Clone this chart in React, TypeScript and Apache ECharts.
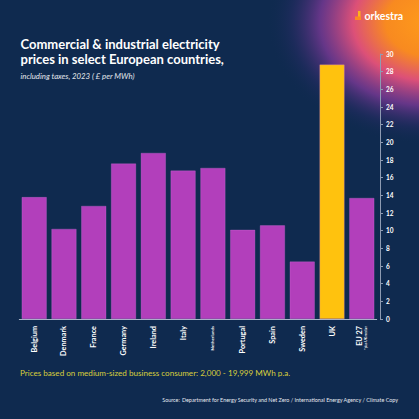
import React, { useEffect, useRef } from "react";
import * as echarts from "echarts";

const categories = ["Belgium", "Denmark", "France", "Germany", "Ireland", "Italy", "Netherlands", "Portugal", "Spain", "Sweden", "UK", "EU 27"];
const prices = [13.8, 10.2, 12.8, 17.6, 18.8, 16.8, 17.1, 10.1, 10.6, 6.5, 28.8, 13.7];
const highlighted = ["UK"];
const yMin = 0;
const yMax = 30;
const yStep = 2;

const titleLines = ["Commercial & industrial electricity", "prices in select European countries,"];
const subtitle = "including taxes, 2023 ( £ per MWh)";
const footnote = "Prices based on medium-sized business consumer: 2,000 - 19,999 MWh p.a.";
const sourceLabel = "Source:";
const sourceText = " Department for Energy Security and Net Zero / International Energy Agency / Climate Copy";
const brand = "orkestra";

const NAVY = "#0f2a4f";
const PURPLE = "#b23fbb";
const YELLOW = "#ffc20e";
const FONT = "Lato";

export default function App() {
  const ref = useRef<HTMLDivElement>(null);
  useEffect(() => {
    if (!ref.current) return;
    const chart = echarts.init(ref.current, null, { renderer: "svg" });
    const option = {
      animation: false,
      backgroundColor: NAVY,
      grid: { left: 19.3, top: 54, width: 357.4, height: 265, containLabel: false },
      xAxis: {
        type: "category",
        data: categories,
        axisLine: { show: true, lineStyle: { color: "#a9b4c8", width: 1 } },
        axisTick: { show: false },
        axisLabel: {
          rotate: 90,
          margin: 7,
          interval: 0,
          color: "#ffffff",
          fontFamily: FONT,
          fontWeight: "bold",
          fontSize: 7.3,
          formatter: (v: string) => {
            if (v === "Netherlands") return "{s|Netherlands}";
            if (v === "EU 27") return "{a|EU 27}\n{t|*plus UK median}";
            return v;
          },
          rich: {
            s: { fontSize: 4.5, fontFamily: FONT, fontWeight: "bold", color: "#ffffff" },
            a: { fontSize: 7.3, fontFamily: FONT, fontWeight: "bold", color: "#ffffff", lineHeight: 8 },
            t: { fontSize: 3.2, fontFamily: FONT, fontWeight: "bold", color: "#ffffff", lineHeight: 5 },
          },
        },
      },
      yAxis: {
        type: "value",
        position: "right",
        offset: 3.3,
        min: yMin,
        max: yMax,
        interval: yStep,
        splitLine: { show: false },
        axisLine: { show: true, lineStyle: { color: "#8e9bb2", width: 1 } },
        axisTick: { show: true, inside: false, length: 3, lineStyle: { color: "#8e9bb2" } },
        axisLabel: { margin: 6, color: "#ffffff", fontFamily: FONT, fontWeight: "bold", fontSize: 6.5 },
      },
      series: [
        {
          type: "bar",
          barWidth: 25,
          data: categories.map((c, i) => ({
            value: prices[i],
            itemStyle: { color: highlighted.includes(c) ? YELLOW : PURPLE },
          })),
          itemStyle: { borderColor: "rgba(210,120,220,0.6)", borderWidth: 0.5 },
        },
      ],
      graphic: [
        {
          type: "circle",
          z: -10,
          silent: true,
          x: 432,
          y: 22,
          scaleY: 0.75,
          shape: { cx: 0, cy: 0, r: 165 },
          style: {
            fill: new echarts.graphic.RadialGradient(0.5, 0.5, 0.5, [
              { offset: 0, color: "#ff9c1a" },
              { offset: 0.28, color: "#f88a20" },
              { offset: 0.48, color: "#dc5078" },
              { offset: 0.68, color: "rgba(130,58,155,0.75)" },
              { offset: 0.86, color: "rgba(55,45,115,0.3)" },
              { offset: 1, color: "rgba(15,42,79,0)" },
            ]),
          },
        },
        {
          type: "rect",
          silent: true,
          shape: { x: 358, y: 11, width: 2.5, height: 9 },
          style: { fill: "#ffb21a" },
        },
        {
          type: "rect",
          silent: true,
          shape: { x: 355, y: 16.5, width: 6, height: 3.5 },
          style: { fill: "#ff8a1f" },
        },
        {
          type: "text",
          x: 364.5,
          y: 16,
          style: { text: brand, fill: "#ffffff", fontFamily: FONT, fontWeight: "bold", fontSize: 10.5, textAlign: "left", textVerticalAlign: "middle" },
        },
        {
          type: "text",
          x: 20.5,
          y: 43.5,
          style: { text: titleLines[0], fill: "#ffffff", fontFamily: FONT, fontWeight: "bold", fontSize: 13, textAlign: "left", textVerticalAlign: "middle" },
        },
        {
          type: "text",
          x: 20.5,
          y: 59,
          style: { text: titleLines[1], fill: "#ffffff", fontFamily: FONT, fontWeight: "bold", fontSize: 13, textAlign: "left", textVerticalAlign: "middle" },
        },
        {
          type: "text",
          x: 20.5,
          y: 75.5,
          style: { text: subtitle, fill: "#e3e6ec", fontFamily: FONT, fontStyle: "italic", fontSize: 7.8, textAlign: "left", textVerticalAlign: "middle" },
        },
        {
          type: "text",
          x: 20,
          y: 372.7,
          style: { text: footnote, fill: "#d9cf3c", fontFamily: FONT, fontSize: 8.1, textAlign: "left", textVerticalAlign: "middle" },
        },
        {
          type: "line",
          silent: true,
          shape: { x1: 20, y1: 388.5, x2: 397, y2: 388.5 },
          style: {
            lineWidth: 1.5,
            stroke: new echarts.graphic.LinearGradient(0, 0, 1, 0, [
              { offset: 0, color: "#cfa83a" },
              { offset: 0.5, color: "#c86a82" },
              { offset: 1, color: "#8c3fb0" },
            ]),
          },
        },
        {
          type: "text",
          x: 398,
          y: 399.5,
          style: {
            text: "{u|" + sourceLabel + "}{n|" + sourceText + "}",
            textAlign: "right",
            textVerticalAlign: "middle",
            rich: {
              u: { fill: "#e6e9ef", fontFamily: FONT, fontSize: 5.4, textDecoration: "underline" },
              n: { fill: "#e6e9ef", fontFamily: FONT, fontSize: 5.4 },
            },
          },
        },
      ],
    };
    chart.setOption(option as any);
    return () => chart.dispose();
  }, []);
  return <div ref={ref} style={{ position: "fixed", left: 0, top: 0, width: 419, height: 419 }} />;
}
